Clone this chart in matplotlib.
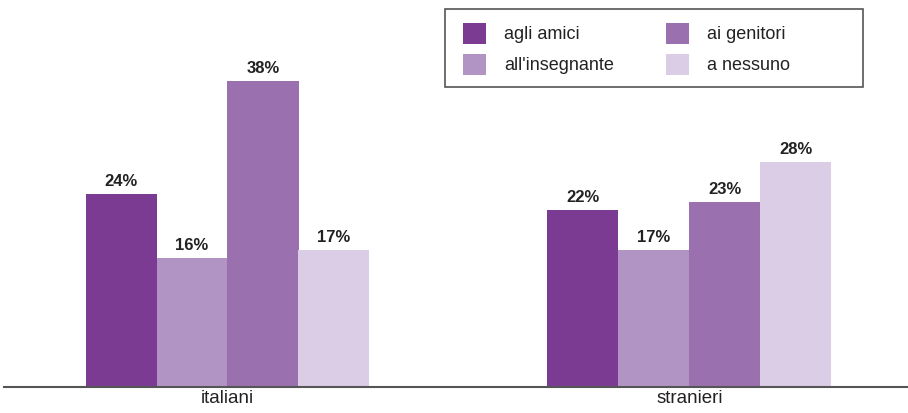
import numpy as np
import matplotlib
matplotlib.use("Agg")
from matplotlib import pyplot as plt
from matplotlib.patches import Rectangle

plt.rcParams['font.family'] = ['Liberation Sans', 'DejaVu Sans']

# dati
gruppi = ['italiani', 'stranieri']
serie = ['agli amici', "all'insegnante", 'ai genitori', 'a nessuno']
valori = {
    'agli amici': [24, 22],
    "all'insegnante": [16, 17],
    'ai genitori': [38, 23],
    'a nessuno': [17, 28],
}
colori = ['#7b3b93', '#b194c4', '#9a70ae', '#dbcde5']

W, H = 908, 413
fig = plt.figure(figsize=(W / 100, H / 100), dpi=100)
ax = fig.add_axes([4 / W, 26 / H, 904 / W, 387 / H])

px_per_unit = 8.05  # pixel per punto percentuale
x = np.arange(len(gruppi))
w = 71 / 462
for i, (nome, col) in enumerate(zip(serie, colori)):
    pos = x + (i - 1.5) * w
    ax.bar(pos, valori[nome], width=w, color=col, label=nome, linewidth=0)
    for p, v in zip(pos, valori[nome]):
        ax.text(p, v + 8 / px_per_unit, f'{v}%', ha='center', va='baseline',
                fontsize=12, fontweight='bold', color='#222222')

ax.set_xlim(-223.5 / 462, 1 + 218.5 / 462)
ax.set_ylim(0, 387 / px_per_unit)
ax.set_xticks(x)
ax.set_xticklabels(gruppi, fontsize=13.5, color='#222222')
ax.tick_params(axis='x', length=0, pad=2)
ax.set_yticks([])
for s in ['top', 'left', 'right']:
    ax.spines[s].set_visible(False)
ax.spines['bottom'].set_color('#555555')
ax.spines['bottom'].set_linewidth(1.5)

# legenda senza cornice + riquadro a parte
leg = ax.legend(ncol=2, loc='upper left', bbox_to_anchor=(463 / W, 1 - 23 / H),
                bbox_transform=fig.transFigure, borderaxespad=0, borderpad=0,
                fontsize=13, frameon=False, handlelength=1.27, handleheight=1.4,
                handletextpad=1.0, columnspacing=2.9, labelspacing=0.55,
                labelcolor='#222222')
fig.patches.append(Rectangle((445 / W, 1 - 87 / H), 418 / W, 78 / H,
                             transform=fig.transFigure, fill=False,
                             edgecolor='#555555', linewidth=1.2))

fig.savefig('out.png', dpi=100)
